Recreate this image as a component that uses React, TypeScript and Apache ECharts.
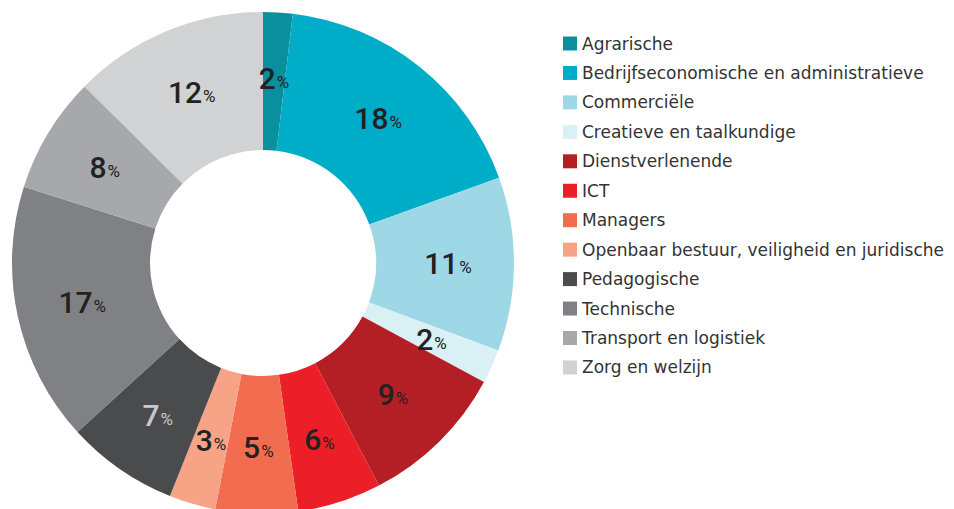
import React, { useEffect, useRef } from "react";
import * as echarts from "echarts";

const categories = [
  "Agrarische",
  "Bedrijfseconomische en administratieve",
  "Commerciële",
  "Creatieve en taalkundige",
  "Dienstverlenende",
  "ICT",
  "Managers",
  "Openbaar bestuur, veiligheid en juridische",
  "Pedagogische",
  "Technische",
  "Transport en logistiek",
  "Zorg en welzijn",
];
const values = [1.9, 17.6, 11.2, 2.2, 9.5, 5.4, 5.3, 3.0, 7.2, 16.7, 7.5, 12.6];
const labels = [2, 18, 11, 2, 9, 6, 5, 3, 7, 17, 8, 12];
const colors = [
  "#0a909d",
  "#00adc8",
  "#9ed8e6",
  "#d9f0f5",
  "#b41e25",
  "#ec1f28",
  "#f26d50",
  "#f7a386",
  "#4a4b4d",
  "#808184",
  "#a7a8ac",
  "#d1d2d4",
];
const labelColors = ["#222", "#222", "#222", "#222", "#222", "#222", "#222", "#222", "#c9c9cb", "#222", "#222", "#222"];

const LEGEND_FONT = "'DejaVu Sans', sans-serif";
const NUM_FONT = "Roboto, 'Noto Sans', sans-serif";

export default function App() {
  const ref = useRef<HTMLDivElement>(null);
  useEffect(() => {
    const chart = echarts.init(ref.current!, null, { renderer: "svg" });
    chart.setOption({
      animation: false,
      backgroundColor: "#ffffff",
      legend: {
        orient: "vertical",
        left: 558,
        top: 30,
        itemWidth: 14,
        itemHeight: 14,
        itemGap: 12.45,
        icon: "rect",
        selectedMode: false,
        data: categories,
        textStyle: {
          fontFamily: LEGEND_FONT,
          fontSize: 17,
          lineHeight: 17,
          color: "#333333",
        },
      },
      series: [
        {
          type: "pie",
          center: [263, 263],
          radius: [113, 251],
          startAngle: 90,
          clockwise: true,
          silent: true,
          label: {
            show: true,
            position: "inside",
          },
          labelLine: { show: false },
          data: categories.map((name, i) => ({
            name,
            value: values[i],
            itemStyle: { color: colors[i] },
            label: {
              formatter: () => `{n|${labels[i]}}{p|%}`,
              rich: {
                n: { fontSize: 30, fontWeight: 500, color: labelColors[i], fontFamily: NUM_FONT },
                p: { fontSize: 17, color: labelColors[i], fontFamily: NUM_FONT, padding: [7, 0, 0, 1] },
              },
            },
          })),
        },
      ],
    });
    return () => chart.dispose();
  }, []);
  return (
    <div
      ref={ref}
      style={{ position: "fixed", left: 0, top: 0, width: 954, height: 509 }}
    />
  );
}
